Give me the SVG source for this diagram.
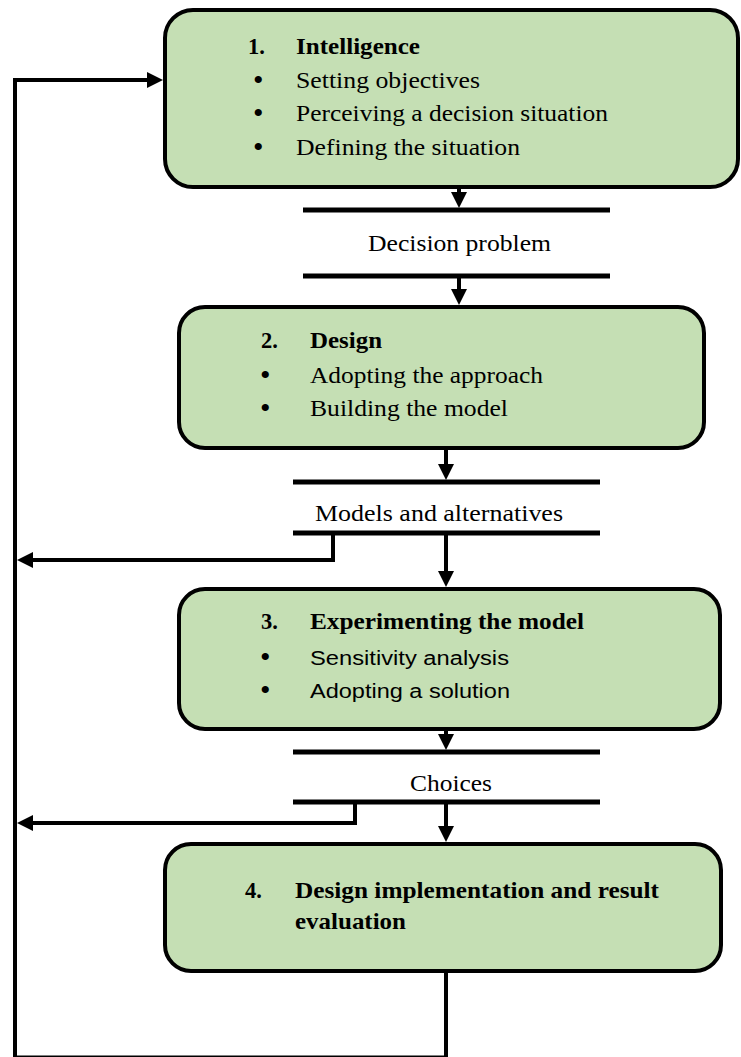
<svg xmlns="http://www.w3.org/2000/svg" width="741" height="1057" viewBox="0 0 741 1057">
<style>
.box{fill:#c5dfb4;stroke:#000;stroke-width:4}
.t{font-family:"Liberation Serif","Times New Roman",serif;font-size:22.5px;fill:#000}
.b{font-weight:bold}
.s{font-family:"Liberation Sans",Arial,sans-serif;font-size:20px;fill:#000}
.u{font-family:"Liberation Serif","Times New Roman",serif;font-size:30px;fill:#000}
.ln{fill:none;stroke:#000;stroke-width:4}
.bar{stroke:#000;stroke-width:5}
</style>
<defs>
<marker id="ah" markerUnits="userSpaceOnUse" markerWidth="18" markerHeight="18" refX="7" refY="8" orient="auto">
<path d="M0,0 L16,8 L0,16 z" fill="#000"/>
</marker>
</defs>
<rect width="741" height="1057" fill="#fff"/>
<g id="connectors">
<line class="bar" x1="303" y1="210" x2="610" y2="210"/>
<line class="bar" x1="303" y1="276" x2="610" y2="276"/>
<line class="bar" x1="293" y1="482" x2="600" y2="482"/>
<line class="bar" x1="293" y1="533" x2="600" y2="533"/>
<line class="bar" x1="293" y1="752" x2="600" y2="752"/>
<line class="bar" x1="293" y1="802" x2="600" y2="802"/>
<path class="ln" d="M459,187 V199" marker-end="url(#ah)"/>
<path class="ln" d="M459,278 V296" marker-end="url(#ah)"/>
<path class="ln" d="M446,449 V471" marker-end="url(#ah)"/>
<path class="ln" d="M446,535 V578" marker-end="url(#ah)"/>
<path class="ln" d="M446,730 V741" marker-end="url(#ah)"/>
<path class="ln" d="M446,804 V833" marker-end="url(#ah)"/>
<path class="ln" d="M333,533 V560 H26" marker-end="url(#ah)"/>
<path class="ln" d="M355,802 V823 H26" marker-end="url(#ah)"/>
<path class="ln" d="M446,972 V1057.5 H15 V80 H154" marker-end="url(#ah)"/>
</g>
<g id="node1">
<rect class="box" x="165" y="10" width="573" height="177" rx="28"/>
<text class="t b" x="248" y="54">1.</text>
<text class="t b" x="296" y="54" textLength="124" lengthAdjust="spacingAndGlyphs">Intelligence</text>
<text class="u" x="253" y="90">•</text>
<text class="t" x="296" y="88" textLength="184" lengthAdjust="spacingAndGlyphs">Setting objectives</text>
<text class="u" x="253" y="123">•</text>
<text class="t" x="296" y="121" textLength="312" lengthAdjust="spacingAndGlyphs">Perceiving a decision situation</text>
<text class="u" x="253" y="157">•</text>
<text class="t" x="296" y="155" textLength="224" lengthAdjust="spacingAndGlyphs">Defining the situation</text>
</g>
<g id="label1">
<text class="t" x="368" y="251" textLength="183" lengthAdjust="spacingAndGlyphs">Decision problem</text>
</g>
<g id="node2">
<rect class="box" x="179" y="307" width="525" height="141" rx="26"/>
<text class="t b" x="261" y="348">2.</text>
<text class="t b" x="310" y="348" textLength="72" lengthAdjust="spacingAndGlyphs">Design</text>
<text class="u" x="260" y="385">•</text>
<text class="t" x="310" y="383" textLength="233" lengthAdjust="spacingAndGlyphs">Adopting the approach</text>
<text class="u" x="260" y="418">•</text>
<text class="t" x="310" y="416" textLength="198" lengthAdjust="spacingAndGlyphs">Building the model</text>
</g>
<g id="label2">
<text class="t" x="315" y="521" textLength="248" lengthAdjust="spacingAndGlyphs">Models and alternatives</text>
</g>
<g id="node3">
<rect class="box" x="179" y="589" width="541" height="140" rx="26"/>
<text class="t b" x="261" y="629">3.</text>
<text class="t b" x="310" y="629" textLength="274" lengthAdjust="spacingAndGlyphs">Experimenting the model</text>
<text class="u" x="260" y="667">•</text>
<text class="s" x="310" y="665" textLength="199" lengthAdjust="spacingAndGlyphs">Sensitivity analysis</text>
<text class="u" x="260" y="700">•</text>
<text class="s" x="310" y="698" textLength="200" lengthAdjust="spacingAndGlyphs">Adopting a solution</text>
</g>
<g id="label3">
<text class="t" x="410" y="791" textLength="82" lengthAdjust="spacingAndGlyphs">Choices</text>
</g>
<g id="node4">
<rect class="box" x="165" y="844" width="556" height="127" rx="26"/>
<text class="t b" x="245" y="898">4.</text>
<text class="t b" x="295" y="898" textLength="364" lengthAdjust="spacingAndGlyphs">Design implementation and result</text>
<text class="t b" x="295" y="929" textLength="111" lengthAdjust="spacingAndGlyphs">evaluation</text>
</g>
</svg>
